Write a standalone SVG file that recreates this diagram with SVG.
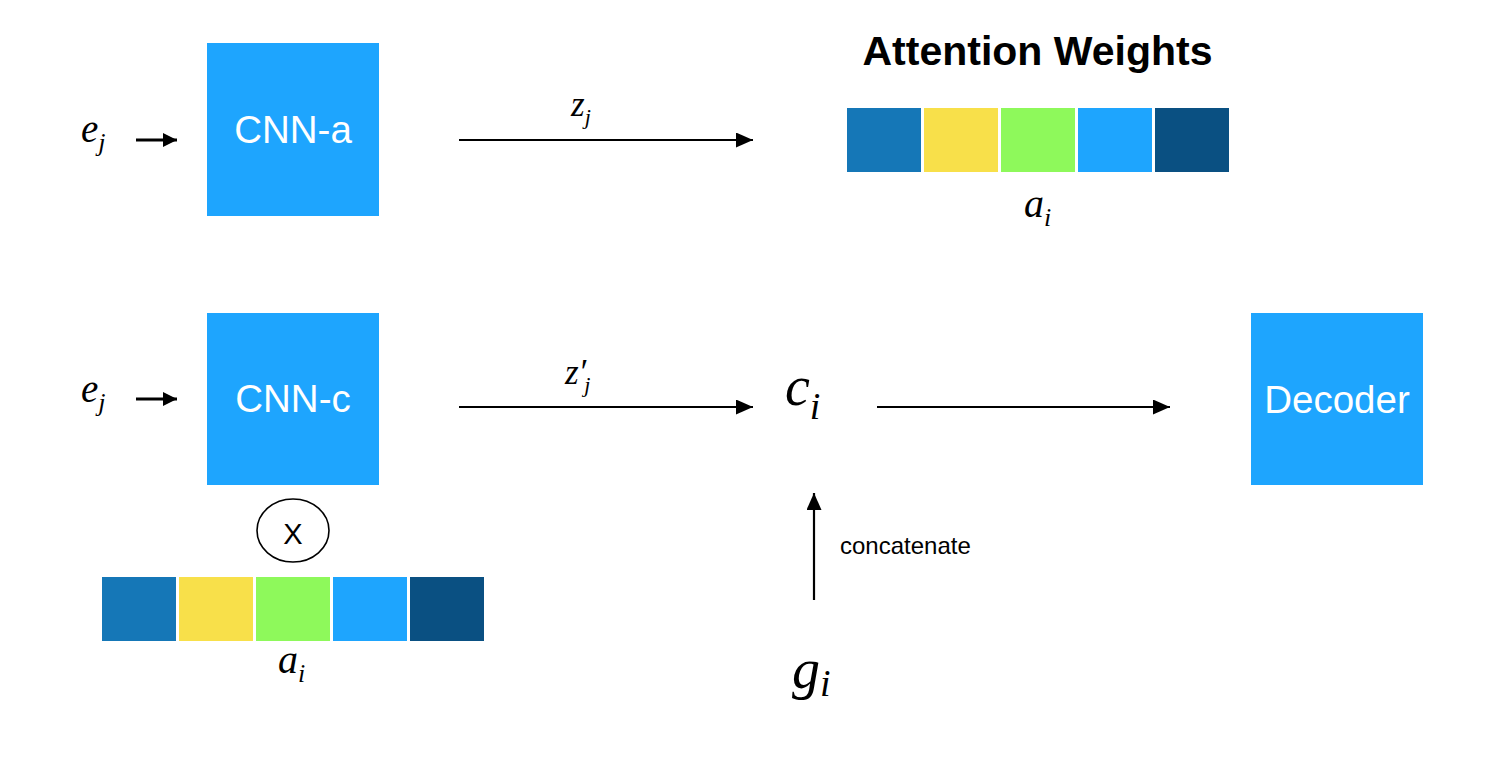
<svg xmlns="http://www.w3.org/2000/svg" width="1494" height="762" viewBox="0 0 1494 762">
<defs>
<style>
.box{fill:#1EA5FE}
.lbl{font-family:"Liberation Sans",Arial,sans-serif;fill:#fff;font-size:38.5px;text-anchor:middle}
.math{font-family:"Liberation Serif","Times New Roman",serif;font-style:italic;fill:#000}
.edge{stroke:#000;stroke-width:2.2;fill:none}
.edges{stroke:#000;stroke-width:3;fill:none}
.c1{fill:#1577B7}.c2{fill:#F8E04A}.c3{fill:#8EF95B}.c4{fill:#1EA5FE}.c5{fill:#0A5082}
</style>
<marker id="ah" markerUnits="userSpaceOnUse" markerWidth="18" markerHeight="15" refX="17" refY="7.5" orient="auto"><path d="M0,0 L17,7.5 L0,15 z" fill="#000"/></marker>
<marker id="ahs" markerUnits="userSpaceOnUse" markerWidth="15" markerHeight="14" refX="14" refY="7" orient="auto"><path d="M0,0 L14,7 L0,14 z" fill="#000"/></marker>
</defs>

<g id="connectors">
<line class="edges" x1="136" y1="140" x2="177" y2="140" marker-end="url(#ahs)"/>
<line class="edges" x1="136" y1="399" x2="177" y2="399" marker-end="url(#ahs)"/>
<line class="edge" x1="459" y1="140" x2="753" y2="140" marker-end="url(#ah)"/>
<line class="edge" x1="459" y1="407" x2="753" y2="407" marker-end="url(#ah)"/>
<line class="edge" x1="877" y1="407" x2="1170" y2="407" marker-end="url(#ah)"/>
<line class="edge" x1="814" y1="600" x2="814" y2="493" marker-end="url(#ah)"/>
<text x="571" y="116" class="math" font-size="35">z<tspan font-size="22" dy="8">j</tspan></text>
<text x="565" y="384" class="math" font-size="35">z′<tspan font-size="22" dy="8" dx="-2">j</tspan></text>
<text x="840" y="554" font-family="'Liberation Sans',Arial,sans-serif" font-size="24" fill="#000">concatenate</text>
</g>

<g id="ej1"><text x="81" y="142" class="math" font-size="39">e<tspan font-size="26" dy="9">j</tspan></text></g>
<g id="ej2"><text x="81" y="402" class="math" font-size="39">e<tspan font-size="26" dy="9">j</tspan></text></g>

<g id="cnn-a"><rect class="box" x="207" y="43" width="172" height="173"/><text class="lbl" x="293" y="143">CNN-a</text></g>
<g id="cnn-c"><rect class="box" x="207" y="313" width="172" height="172"/><text class="lbl" x="293" y="412">CNN-c</text></g>
<g id="decoder"><rect class="box" x="1251" y="313" width="172" height="172"/><text class="lbl" x="1337" y="413">Decoder</text></g>

<g id="attention">
<text x="1037.5" y="65" font-family="'Liberation Sans',Arial,sans-serif" font-weight="bold" font-size="41" text-anchor="middle" fill="#000">Attention Weights</text>
<rect class="c1" x="847" y="108" width="74" height="64"/>
<rect class="c2" x="924" y="108" width="74" height="64"/>
<rect class="c3" x="1001" y="108" width="74" height="64"/>
<rect class="c4" x="1078" y="108" width="74" height="64"/>
<rect class="c5" x="1155" y="108" width="74" height="64"/>
<text x="1024" y="217" class="math" font-size="40">a<tspan font-size="26" dy="9">i</tspan></text>
</g>

<g id="multiply">
<ellipse cx="293" cy="530.5" rx="36" ry="31.5" fill="#fff" stroke="#000" stroke-width="1.6"/>
<text x="293" y="544" font-family="'Liberation Sans',Arial,sans-serif" font-size="29" text-anchor="middle" fill="#000">X</text>
</g>

<g id="weights2">
<rect class="c1" x="102" y="577" width="74" height="64"/>
<rect class="c2" x="179" y="577" width="74" height="64"/>
<rect class="c3" x="256" y="577" width="74" height="64"/>
<rect class="c4" x="333" y="577" width="74" height="64"/>
<rect class="c5" x="410" y="577" width="74" height="64"/>
<text x="278" y="673" class="math" font-size="40">a<tspan font-size="26" dy="9">i</tspan></text>
</g>

<g id="ci"><text x="785" y="405" class="math" font-size="56">c<tspan font-size="38" dy="14">i</tspan></text></g>
<g id="gi"><text x="792" y="688" class="math" font-size="56">g<tspan font-size="38" dy="8">i</tspan></text></g>
</svg>
